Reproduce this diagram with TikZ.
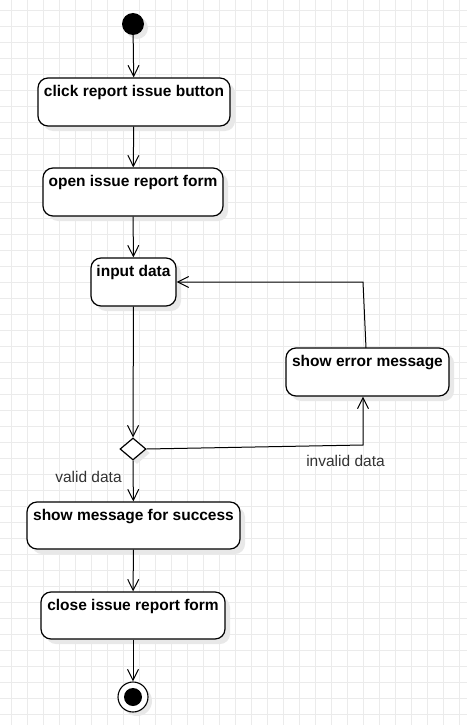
\documentclass[tikz,border=0pt]{standalone}
\usepackage{fontspec}
\setmainfont{Liberation Sans}
\usetikzlibrary{arrows.meta,shapes.geometric,shadows}
\tikzset{
  actbox/.style={draw=black, line width=1.2pt, rounded corners=10pt, fill=white, inner sep=0pt,
    drop shadow={shadow xshift=5pt, shadow yshift=-5pt, fill=black!9, opacity=1}},
  boxtext/.style={anchor=base, yshift=-19.5pt, inner sep=0pt, font=\fontsize{15.5}{18}\selectfont\bfseries},
  edgetext/.style={inner sep=0pt, text=black!80, font=\fontsize{15.5}{18}\selectfont},
  flow/.style={draw=black, line width=1pt, -{Straight Barb[length=11pt,width=11pt]}},
  gridline/.style={draw=black!8, line width=0.9pt}
}
\begin{document}
\begin{tikzpicture}[x=1pt,y=-1pt]
\useasboundingbox (0,0) rectangle (467,725);
\fill[white] (0,0) rectangle (467,725);
\foreach \k in {0,...,28} \draw[gridline] (11.5+16*\k,0) -- (11.5+16*\k,725);
\foreach \k in {0,...,44} \draw[gridline] (0,10.5+16*\k) -- (467,10.5+16*\k);

\node[circle, fill=black, minimum size=22pt, inner sep=0pt,
  drop shadow={shadow xshift=4pt, shadow yshift=-4pt, fill=black!9, opacity=1}] (s) at (133,24) {};

\node[actbox, minimum width=192pt, minimum height=48pt,
  label={[boxtext]north:click report issue button}] (b1) at (134,102) {};
\node[actbox, minimum width=180pt, minimum height=48pt,
  label={[boxtext]north:open issue report form}] (b2) at (133,192) {};
\node[actbox, minimum width=85pt, minimum height=48pt,
  label={[boxtext]north:input data}] (b3) at (133.5,282) {};
\node[actbox, minimum width=163pt, minimum height=48pt,
  label={[boxtext]north:show error message}] (b4) at (367.5,372) {};
\node[diamond, draw=black, line width=1.2pt, fill=white, inner sep=0pt, minimum width=26pt, minimum height=22pt,
  drop shadow={shadow xshift=4pt, shadow yshift=-4pt, fill=black!9, opacity=1}] (d) at (133,449) {};
\node[actbox, minimum width=213pt, minimum height=47pt,
  label={[boxtext]north:show message for success}] (b5) at (133.5,525.5) {};
\node[actbox, minimum width=184pt, minimum height=47pt,
  label={[boxtext]north:close issue report form}] (b6) at (133,615.5) {};

\node[circle, draw=black, line width=1.1pt, fill=white, minimum size=30pt, inner sep=0pt,
  drop shadow={shadow xshift=4pt, shadow yshift=-4pt, fill=black!9, opacity=1}] (e) at (133,697) {};
\node[circle, fill=black, minimum size=18pt, inner sep=0pt] (ei) at (e) {};

\coordinate (c1) at (363,445);
\coordinate (e1) at (366,348);
\coordinate (c2) at (363,282);

\draw[flow] (s) -- (b1);
\draw[flow] (b1) -- (b2);
\draw[flow] (b2) -- (b3);
\draw[flow] (b3) -- (d);
\draw[flow] (d) -- (b5);
\draw[flow] (d.east) -- (c1) -- (c1 |- b4.south);
\draw[flow] (e1) -- (c2) -- (b3.east);
\draw[flow] (b5) -- (b6);
\draw[flow] (b6) -- (e);

\node[edgetext] (lv) at (88.5,477) {valid data};
\node[edgetext] (li) at (345.5,461) {invalid data};
\end{tikzpicture}
\end{document}
